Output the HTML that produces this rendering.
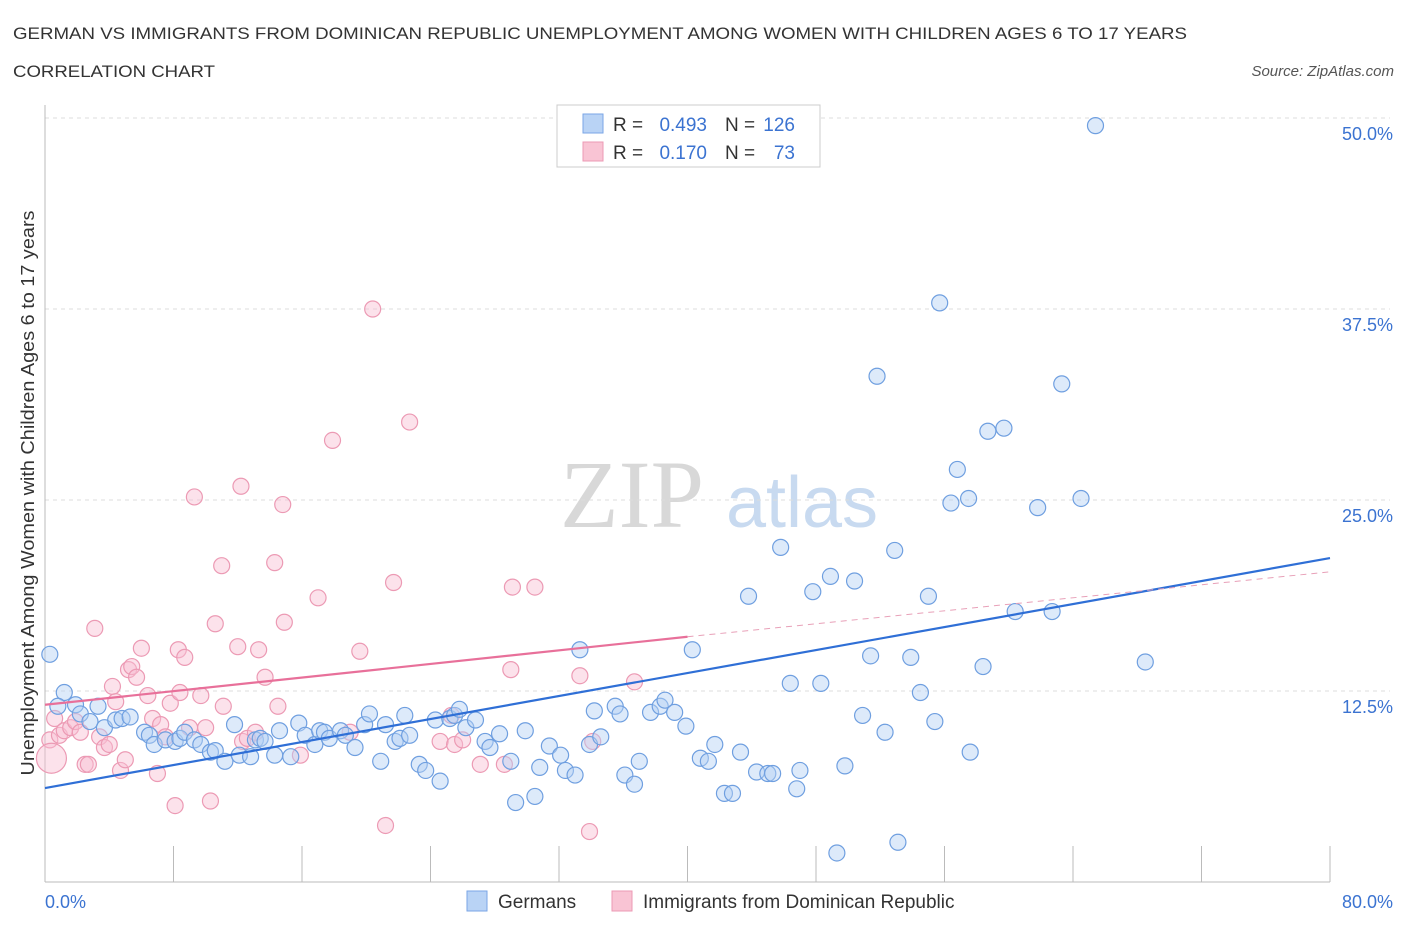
<!DOCTYPE html>
<html><head><meta charset="utf-8"><style>
body{margin:0;background:#fff;font-family:"Liberation Sans",sans-serif;}
svg{display:block}
</style></head><body>
<svg id="chart" width="1406" height="930" xmlns="http://www.w3.org/2000/svg">
<text x="13" y="39" font-size="17" fill="#333" textLength="1174" lengthAdjust="spacingAndGlyphs">GERMAN VS IMMIGRANTS FROM DOMINICAN REPUBLIC UNEMPLOYMENT AMONG WOMEN WITH CHILDREN AGES 6 TO 17 YEARS</text>
<text x="13" y="77" font-size="17" fill="#333" textLength="202" lengthAdjust="spacingAndGlyphs">CORRELATION CHART</text>
<text x="1394" y="76" font-size="15" fill="#555" font-style="italic" text-anchor="end">Source: ZipAtlas.com</text>
<g>
<text x="632" y="527" font-size="96" fill="#d8d8d8" font-family="Liberation Serif, serif" text-anchor="middle">ZIP</text>
<text x="802" y="527" font-size="72" fill="#c8daf0" text-anchor="middle">atlas</text>
</g>
<g id="grid"></g>
<g id="axes"></g>
<g id="pink"></g>
<g id="blue"></g>
<g id="lines"></g>
<text transform="translate(34,493) rotate(-90)" font-size="18" fill="#333" text-anchor="middle" textLength="565" lengthAdjust="spacingAndGlyphs">Unemployment Among Women with Children Ages 6 to 17 years</text>
<g>
<rect x="557" y="105" width="263" height="62" fill="#fff" stroke="#ccc"/>
<rect x="583" y="114" width="20" height="19" fill="#b9d3f5" stroke="#7aa6e6"/>
<rect x="583" y="142" width="20" height="19" fill="#f9c4d4" stroke="#ec9ab4"/>
<text x="613" y="131" font-size="19" fill="#333">R =</text>
<text x="707" y="131" font-size="19" fill="#3b73d1" text-anchor="end">0.493</text>
<text x="725" y="131" font-size="19" fill="#333">N =</text>
<text x="795" y="131" font-size="19" fill="#3b73d1" text-anchor="end">126</text>
<text x="613" y="159" font-size="19" fill="#333">R =</text>
<text x="707" y="159" font-size="19" fill="#3b73d1" text-anchor="end">0.170</text>
<text x="725" y="159" font-size="19" fill="#333">N =</text>
<text x="795" y="159" font-size="19" fill="#3b73d1" text-anchor="end">73</text>
</g>
<g>
<rect x="467" y="891" width="20" height="20" fill="#b9d3f5" stroke="#7aa6e6"/>
<text x="498" y="908" font-size="19" fill="#333">Germans</text>
<rect x="612" y="891" width="20" height="20" fill="#f9c4d4" stroke="#ec9ab4"/>
<text x="643" y="908" font-size="19" fill="#333">Immigrants from Dominican Republic</text>
</g>
</svg>
<script>
const yTicks=[12.5,25,37.5,50];
const yTickLabels=["12.5%","25.0%","37.5%","50.0%"];
const xTicks=[0,8,16,24,32,40,48,56,64,72,80];
const xEndLabels=["0.0%","80.0%"];
const blueX=[0.3,1.2,0.8,1.9,2.2,2.8,3.3,3.7,4.4,4.8,5.3,6.2,6.5,6.8,7.5,8.1,8.4,8.7,9.3,9.7,10.3,10.6,11.2,11.8,12.1,12.8,13.1,13.4,13.7,14.3,14.6,15.3,15.8,16.2,16.8,17.1,17.4,17.7,18.4,18.7,19.3,19.9,20.2,20.9,21.2,21.8,22.1,22.4,22.7,23.3,23.7,24.3,24.6,25.2,25.5,25.8,26.2,26.8,27.4,27.7,28.3,29.0,29.3,29.9,30.5,30.8,31.4,32.1,32.4,33.0,33.3,33.9,34.2,34.6,35.5,35.8,36.1,36.7,37.0,37.7,38.3,38.6,39.2,39.9,40.3,40.8,41.3,41.7,42.3,42.8,43.3,43.8,44.3,45.0,45.3,45.8,46.4,46.8,47.0,47.8,48.3,48.9,49.3,49.8,50.4,50.9,51.4,51.8,52.3,52.9,53.1,53.9,54.5,55.0,55.4,55.7,56.4,56.8,57.5,57.6,58.4,58.7,59.7,60.4,61.8,62.7,63.3,64.5,65.4,68.5];
const blueY=[14.9,12.4,11.5,11.6,11.0,10.5,11.5,10.1,10.6,10.7,10.8,9.8,9.6,9.0,9.3,9.2,9.4,9.8,9.3,9.0,8.5,8.6,7.9,10.3,8.3,8.2,9.3,9.4,9.2,8.3,9.9,8.2,10.4,9.6,9.0,9.9,9.8,9.4,9.9,9.6,8.8,10.3,11.0,7.9,10.3,9.2,9.4,10.9,9.6,7.7,7.3,10.6,6.6,10.7,10.9,11.3,10.1,10.6,9.2,8.8,9.7,7.9,5.2,9.9,5.6,7.5,8.9,8.3,7.3,7.0,15.2,9.0,11.2,9.5,11.5,11.0,7.0,6.4,7.9,11.1,11.5,11.9,11.1,10.2,15.2,8.1,7.9,9.0,5.8,5.8,8.5,18.7,7.2,7.1,7.1,21.9,13.0,6.1,7.3,19.0,13.0,20.0,1.9,7.6,19.7,10.9,14.8,33.1,9.8,21.7,2.6,14.7,12.4,18.7,10.5,37.9,24.8,27.0,25.1,8.5,14.1,29.5,29.7,17.7,24.5,17.7,32.6,25.1,49.5,14.4];
const pinkX=[0.3,0.4,0.6,0.9,1.2,1.6,1.9,2.2,2.5,2.7,3.1,3.4,3.7,4.0,4.2,4.4,4.7,5.0,5.2,5.4,5.7,6.0,6.4,6.7,7.0,7.2,7.5,7.8,8.1,8.3,8.4,8.7,9.0,9.3,9.7,10.0,10.3,10.6,11.0,11.1,12.0,12.2,12.3,12.6,13.1,13.3,13.7,14.3,14.5,14.8,14.9,15.9,17.0,17.9,19.0,19.6,20.4,21.2,21.7,22.7,24.6,25.3,25.5,26.0,27.1,28.6,29.0,29.1,30.5,33.3,33.9,34.1,36.7];
const pinkY=[9.3,8.1,10.7,9.6,9.9,10.1,10.5,9.8,7.7,7.7,16.6,9.5,8.8,9.0,12.8,11.8,7.3,8.0,13.9,14.1,13.4,15.3,12.2,10.7,7.1,10.3,9.5,11.7,5.0,15.2,12.4,14.7,10.1,25.2,12.2,10.1,5.3,16.9,20.7,11.5,15.4,25.9,9.2,9.4,9.8,15.2,13.4,20.9,11.5,24.7,17.0,8.3,18.6,28.9,9.8,15.1,37.5,3.7,19.6,30.1,9.2,10.9,9.0,9.3,7.7,7.7,13.9,19.3,19.3,13.5,3.3,9.2,13.1];
const blueTrend=[6.15,21.2];
const pinkTrend=[11.6,16.05,20.3];

const NS="http://www.w3.org/2000/svg";
const X0=45,X1=1330,Y0=882,PXY=15.28;
const sx=v=>X0+(X1-X0)*v/80;
const sy=v=>Y0-v*PXY;
function mk(tag,attrs,parent){const e=document.createElementNS(NS,tag);for(const k in attrs)e.setAttribute(k,attrs[k]);parent.appendChild(e);return e;}
const grid=document.getElementById('grid'),axes=document.getElementById('axes');
yTicks.forEach((t,i)=>{
  const g=mk('line',{x1:X0,x2:X1+60,y1:sy(t),y2:sy(t),stroke:'#ddd','stroke-dasharray':'4,4'},grid);
  
  
  const l=mk('text',{x:1393,y:sy(t)+22,'font-size':18,fill:'#3b73d1','text-anchor':'end'},axes);
  l.textContent=yTickLabels[i];
  
  
});
const yax=mk('line',{x1:X0,x2:X0,y1:105,y2:Y0,stroke:'#bbb'},axes);


const xax=mk('line',{x1:X0,x2:X1,y1:Y0,y2:Y0,stroke:'#bbb'},axes);


xTicks.forEach(t=>{
  const k=mk('line',{x1:sx(t),x2:sx(t),y1:Y0-36,y2:Y0,stroke:'#bbb'},axes);
  
  
});
const xl0=mk('text',{x:45,y:908,'font-size':18,fill:'#3b73d1'},axes);xl0.textContent=xEndLabels[0];


const xl1=mk('text',{x:1393,y:908,'font-size':18,fill:'#3b73d1','text-anchor':'end'},axes);xl1.textContent=xEndLabels[1];


const pg=document.getElementById('pink'),bg=document.getElementById('blue'),lg=document.getElementById('lines');
pinkX.forEach((x,i)=>{
  const c=mk('circle',{cx:sx(x),cy:sy(pinkY[i]),r:i===1?15:8,fill:'rgba(249,190,210,0.45)',stroke:'#ec9ab4','stroke-width':1.2},pg);
  
  
});
blueX.forEach((x,i)=>{
  const c=mk('circle',{cx:sx(x),cy:sy(blueY[i]),r:8,fill:'rgba(180,208,245,0.45)',stroke:'#6f9fe0','stroke-width':1.2},bg);
  
  
});
const bl=mk('line',{x1:sx(0),y1:sy(blueTrend[0]),x2:sx(80),y2:sy(blueTrend[1]),stroke:'#2f6fd6','stroke-width':2.2},lg);


const pl=mk('line',{x1:sx(0),y1:sy(pinkTrend[0]),x2:sx(40),y2:sy(pinkTrend[1]),stroke:'#e8709a','stroke-width':2.2},lg);


const pd=mk('line',{x1:sx(40),y1:sy(pinkTrend[1]),x2:sx(80),y2:sy(pinkTrend[2]),stroke:'#e8a0b8','stroke-width':1,'stroke-dasharray':'6,5'},lg);


</script>
</body></html>
